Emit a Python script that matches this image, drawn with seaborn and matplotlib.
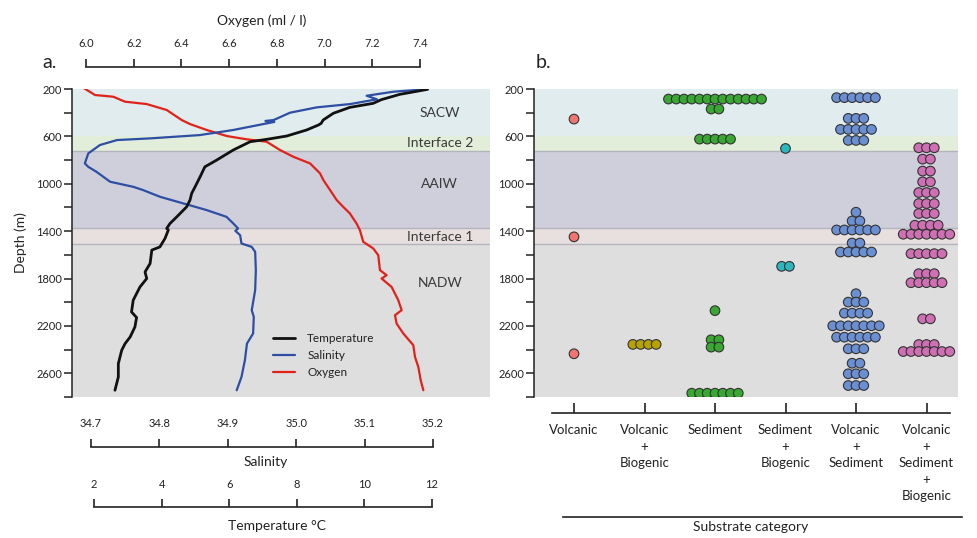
import numpy as np
import pandas as pd
import matplotlib
matplotlib.use('Agg')
import matplotlib.pyplot as plt
from matplotlib.ticker import FormatStrFormatter
import seaborn as sns

# CTD profiles (depth in m)
temp_depth = [203, 245, 290, 321, 355, 405, 462, 490, 504, 546, 597, 625, 645, 715, 800, 857,
              941, 1026, 1081, 1138, 1195, 1279, 1335, 1377, 1390, 1462, 1533, 1560, 1673, 1744,
              1800, 1871, 1983, 2082, 2129, 2209, 2293, 2349, 2405, 2518, 2631, 2743]
temp_value = [11.87, 11.05, 10.5, 10.26, 9.57, 9.08, 8.78, 8.72, 8.64, 8.29, 7.70, 7.11, 6.62,
              6.12, 5.63, 5.28, 5.14, 4.99, 4.89, 4.84, 4.74, 4.45, 4.25, 4.15, 4.20, 4.10, 3.95,
              3.71, 3.66, 3.51, 3.56, 3.36, 3.16, 3.11, 3.26, 3.21, 3.07, 2.92, 2.82, 2.72, 2.72,
              2.62]

sal_depth = [203, 223, 257, 287, 327, 355, 400, 462, 470, 478, 496, 546, 589, 617, 631, 673, 744,
             828, 857, 899, 983, 1026, 1053, 1110, 1166, 1222, 1279, 1335, 1377, 1397, 1434, 1504,
             1533, 1575, 1729, 1898, 2067, 2124, 2264, 2349, 2490, 2631, 2743]
sal_value = [35.188, 35.142, 35.103, 35.118, 35.079, 35.030, 34.991, 34.967, 34.955, 34.968,
             34.952, 34.908, 34.859, 34.786, 34.738, 34.713, 34.696, 34.691, 34.696, 34.708,
             34.728, 34.762, 34.776, 34.801, 34.835, 34.869, 34.898, 34.908, 34.915, 34.911,
             34.918, 34.920, 34.935, 34.940, 34.941, 34.940, 34.935, 34.938, 34.937, 34.928,
             34.925, 34.920, 34.913]

oxy_depth = [194, 251, 265, 307, 327, 377, 462, 496, 546, 597, 625, 645, 715, 772, 828, 912, 969,
             1053, 1138, 1195, 1250, 1335, 1391, 1490, 1546, 1603, 1729, 1772, 1800, 1871, 1983,
             2067, 2110, 2180, 2264, 2363, 2462, 2547, 2659, 2743]
oxy_value = [5.992, 6.038, 6.114, 6.163, 6.254, 6.338, 6.401, 6.436, 6.506, 6.590, 6.674, 6.757,
             6.813, 6.869, 6.939, 6.981, 6.995, 7.023, 7.051, 7.078, 7.106, 7.134, 7.148, 7.162,
             7.204, 7.225, 7.232, 7.260, 7.239, 7.281, 7.309, 7.323, 7.295, 7.302, 7.330, 7.372,
             7.379, 7.393, 7.403, 7.414]

# water masses
zone_names = ['SACW', 'Interface 2', 'AAIW', 'Interface 1', 'NADW']
zone_top = [200, 600, 720, 1370, 1505]
zone_bottom = [600, 720, 1370, 1505, 2800]
zone_label_depth = [400, 655, 1005, 1450, 1840]
zone_colors = ['#e0eced', '#e2edda', '#cfcfdc', '#e8dfdf', '#dedede']

# substrate observations: depth of each row of dots and number of dots in the row
categories = ['Volcanic', 'Volcanic\n+\nBiogenic', 'Sediment', 'Sediment\n+\nBiogenic',
              'Volcanic\n+\nSediment', 'Volcanic\n+\nSediment\n+\nBiogenic']
volc_depth = [454, 1448, 2435]
volc_n = [1, 1, 1]
vb_depth = [2356]
vb_n = [4]
sed_depth = [285, 369, 623, 2071, 2317, 2379, 2768]
sed_n = [13, 2, 5, 1, 2, 2, 7]
sb_depth = [702, 1697]
sb_n = [1, 2]
vs_depth = [273, 448, 541, 634, 1240, 1314, 1390, 1500, 1576, 1928, 1999, 2092, 2199, 2295,
            2393, 2515, 2604, 2703]
vs_n = [6, 3, 5, 3, 1, 2, 6, 2, 5, 1, 3, 4, 7, 6, 3, 2, 3, 3]
vsb_depth = [696, 792, 893, 984, 1074, 1167, 1251, 1350, 1426, 1590, 1759, 1835, 2140, 2357, 2416]
vsb_n = [3, 2, 2, 2, 3, 3, 3, 4, 7, 5, 3, 5, 2, 3, 7]
cat_colors = ['#f07470', '#b8a200', '#38a832', '#2ab7bd', '#6a8fd2', '#cf6fb4']

depth_ticks = [200, 600, 1000, 1400, 1800, 2200, 2600]
depth_minor = [400, 800, 1200, 1600, 2000, 2400, 2800]

sns.set_style('ticks')
plt.rcParams['font.family'] = ['Lato', 'DejaVu Sans']
plt.rcParams['text.color'] = '#222222'

W, H = 977, 538


def px_box(x0, y0, x1, y1):
    return [x0 / W, 1 - y1 / H, (x1 - x0) / W, (y1 - y0) / H]


def lims(v0, v1, p0, p1, a0, a1):
    # axis limits so that v0 sits at pixel p0 and v1 at p1, axes spanning a0..a1
    k = (v1 - v0) / (p1 - p0)
    return (v0 - (p0 - a0) * k, v1 + (a1 - p1) * k)


def hide_x(ax):
    ax.tick_params(axis='x', which='both', bottom=False, labelbottom=False,
                   top=False, labeltop=False)
    for s in ['top', 'right', 'bottom']:
        ax.spines[s].set_visible(False)


def depth_axis(ax):
    for top, bot, col in zip(zone_top, zone_bottom, zone_colors):
        ax.axhspan(top, bot, color=col, lw=0, zorder=0)
    for d in [720, 1370, 1505]:
        ax.axhline(d, color='#b4b4bc', lw=1.0, zorder=0.5)
    ax.set_yticks(depth_ticks)
    ax.set_yticks(depth_minor, minor=True)
    ax.tick_params(axis='y', which='both', direction='out', length=5.5, width=1.1,
                   labelsize=8, pad=1.5, colors='#222222')
    hide_x(ax)
    ax.spines['left'].set_linewidth(1.1)
    ax.spines['left'].set_color('#222222')


def scale_bar(x0, x1, y, lo, hi, ticks, fmt, pad):
    bar = fig.add_axes(px_box(x0, y - 0.01, x1, y))
    bar.set_xlim(lo, hi)
    bar.set_yticks([])
    for s in ['left', 'right', 'bottom']:
        bar.spines[s].set_visible(False)
    bar.spines['top'].set_linewidth(1.2)
    bar.spines['top'].set_color('#222222')
    bar.patch.set_visible(False)
    bar.set_xticks(ticks)
    bar.xaxis.set_major_formatter(FormatStrFormatter(fmt))
    bar.tick_params(axis='x', which='both', top=True, labeltop=True, bottom=False,
                    labelbottom=False, direction='out', length=6, width=1.2, pad=pad,
                    labelsize=8, colors='#222222')
    return bar


fig = plt.figure(figsize=(W / 100, H / 100), dpi=100)

# ---------------- panel a ----------------
ax_a = fig.add_axes(px_box(72, 89, 490, 397))
depth_axis(ax_a)
ax_a.set_xlim(0, 1)
ax_a.set_ylabel('Depth (m)', fontsize=10, labelpad=7)
for name, d in zip(zone_names, zone_label_depth):
    ax_a.text(0.88, d, name, transform=ax_a.get_yaxis_transform(), ha='center', va='center',
              fontsize=10, color='#3a3a3a')

ax_o = ax_a.twiny()
ax_s = ax_a.twiny()
ax_t = ax_a.twiny()
sns.lineplot(x=oxy_value, y=oxy_depth, sort=False, estimator=None, orient='y', ax=ax_o,
             color='#e0221b', lw=1.6)
sns.lineplot(x=sal_value, y=sal_depth, sort=False, estimator=None, orient='y', ax=ax_s,
             color='#2d4ea3', lw=1.6)
sns.lineplot(x=temp_value, y=temp_depth, sort=False, estimator=None, orient='y', ax=ax_t,
             color='#111111', lw=2.0)
ax_o.set_xlim(*lims(6.0, 7.4, 86, 420, 72, 490))
ax_s.set_xlim(*lims(34.7, 35.2, 91, 433, 72, 490))
ax_t.set_xlim(*lims(2, 12, 94, 432, 72, 490))
for tw in [ax_o, ax_s, ax_t]:
    for s in tw.spines.values():
        s.set_visible(False)
    hide_x(tw)
    tw.set_xlabel('')
    tw.set_ylabel('')
hide_x(ax_a)
ax_a.set_ylim(2800, 200)

handles = [ax_t.get_lines()[0], ax_s.get_lines()[0], ax_o.get_lines()[0]]
ax_t.legend(handles, ['Temperature', 'Salinity', 'Oxygen'], loc='upper left',
            bbox_to_anchor=((273 - 72) / 418, (397 - 333) / 308), frameon=False, fontsize=8.5,
            handlelength=1.9, handletextpad=1.0, labelspacing=0.5, borderpad=0,
            borderaxespad=0)

bar_o = scale_bar(86, 420, 67, 6.0, 7.4, np.arange(6.0, 7.41, 0.2), '%.1f', 7)
bar_o.annotate('Oxygen (ml / l)', xy=(0.527, 0), xycoords='axes fraction', xytext=(0, 33),
               textcoords='offset points', ha='center', va='center', fontsize=10)

bar_s = scale_bar(91, 433, 447, 34.7, 35.2, np.arange(34.7, 35.21, 0.1), '%.1f', 7)
bar_s.annotate('Salinity', xy=(0.51, 0), xycoords='axes fraction', xytext=(0, -11),
               textcoords='offset points', ha='center', va='center', fontsize=10)

bar_t = scale_bar(94, 432, 507, 2, 12, np.arange(2, 13, 2), '%d', 6)
bar_t.annotate('Temperature °C', xy=(0.54, 0), xycoords='axes fraction', xytext=(0, -14),
               textcoords='offset points', ha='center', va='center', fontsize=10)

# ---------------- panel b ----------------
cat_step = 70.5
cat_x0 = 574
dot_step = 0.11

rows = []
for i, (deps, counts) in enumerate([(volc_depth, volc_n), (vb_depth, vb_n),
                                    (sed_depth, sed_n), (sb_depth, sb_n),
                                    (vs_depth, vs_n), (vsb_depth, vsb_n)]):
    for d, n in zip(deps, counts):
        for k in range(n):
            rows.append({'category': categories[i], 'x': i + (k - (n - 1) / 2) * dot_step,
                         'depth': d})
dots = pd.DataFrame(rows)

ax_b = fig.add_axes(px_box(534, 89, 958, 397))
depth_axis(ax_b)
sns.scatterplot(data=dots, x='x', y='depth', hue='category', hue_order=categories,
                palette=cat_colors, s=48, edgecolor='#333333', linewidth=0.8, legend=False,
                ax=ax_b, zorder=3)
b_lim = lims(0, 5, cat_x0, cat_x0 + 5 * cat_step, 534, 958)
ax_b.set_xlim(*b_lim)
ax_b.set_ylim(2800, 200)
ax_b.set_xlabel('')
ax_b.set_ylabel('')
hide_x(ax_b)

ax_cat = fig.add_axes(px_box(534, 412.99, 958, 413))
ax_cat.set_xlim(*b_lim)
ax_cat.set_yticks([])
ax_cat.patch.set_visible(False)
for s in ['left', 'right', 'top']:
    ax_cat.spines[s].set_visible(False)
ax_cat.spines['bottom'].set_bounds((552 - cat_x0) / cat_step, (950 - cat_x0) / cat_step)
ax_cat.spines['bottom'].set_linewidth(1.2)
ax_cat.spines['bottom'].set_color('#222222')
ax_cat.set_xticks(range(len(categories)))
ax_cat.set_xticklabels(categories, fontsize=9.5, linespacing=1.45)
ax_cat.tick_params(axis='x', direction='in', length=7, width=1.2, pad=8, colors='#222222')

ax_sub = fig.add_axes(px_box(563, 516.99, 962, 517))
ax_sub.set_xticks([])
ax_sub.set_yticks([])
ax_sub.patch.set_visible(False)
for s in ['left', 'right', 'top']:
    ax_sub.spines[s].set_visible(False)
ax_sub.spines['bottom'].set_linewidth(1.2)
ax_sub.spines['bottom'].set_color('#222222')
ax_sub.annotate('Substrate category', xy=(0.47, 0), xycoords='axes fraction', xytext=(0, -7.5),
                textcoords='offset points', ha='center', va='center', fontsize=10)

fig.text(50 / W, 1 - 63 / H, 'a.', fontsize=14, ha='center', va='center')
fig.text(543 / W, 1 - 63 / H, 'b.', fontsize=14, ha='center', va='center')

fig.savefig('out.png', dpi=100)
plt.close(fig)
